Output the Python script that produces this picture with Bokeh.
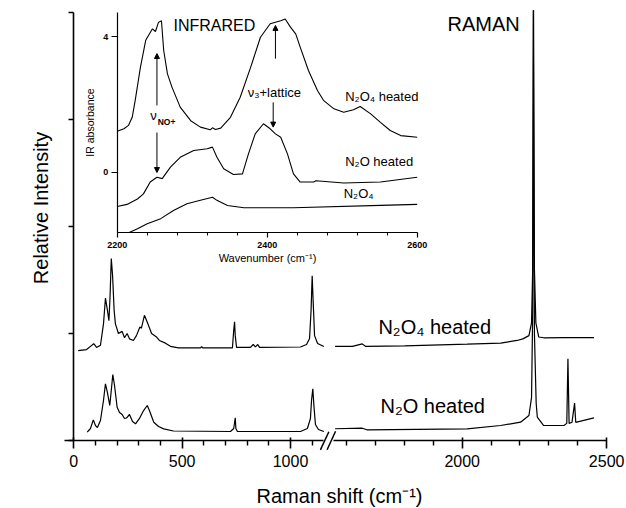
from bokeh.plotting import figure
from bokeh.models import Range1d, LinearAxis, FixedTicker, Arrow, NormalHead
from bokeh.core.properties import value
from bokeh.embed import file_html
from bokeh.resources import INLINE

# ------------------------------------------------------------------ data
# Raman, low-wavenumber segment (cm-1, relative intensity)
ram_n2o4h_lo_x = [20, 59, 77, 92, 105, 123, 137, 146, 155, 162, 167, 173, 179, 186, 192, 206,
                  223, 234, 246, 257, 275, 289, 305, 312, 326, 340, 359, 380, 395, 423, 446,
                  483, 585, 590, 595, 732, 738, 742, 745, 751, 815, 828, 838, 849, 857, 1046,
                  1074, 1088, 1095, 1100, 1104, 1111, 1125, 1154]
ram_n2o4h_lo_y = [0.84, 0.85, 0.88, 0.905, 0.87, 0.89, 1.09, 1.33, 1.22, 1.12, 1.33, 1.70,
                  1.54, 1.22, 1.09, 1.00, 1.02, 0.96, 1.00, 0.95, 0.935, 0.98, 1.06, 1.05,
                  1.17, 1.10, 1.00, 0.97, 0.935, 0.91, 0.88, 0.865, 0.865, 0.878, 0.865,
                  0.865, 1.03, 1.11, 0.98, 0.87, 0.87, 0.897, 0.875, 0.897, 0.87, 0.874,
                  0.897, 0.953, 1.22, 1.54, 1.33, 0.98, 0.907, 0.879]

ram_n2oh_lo_x = [62, 77, 90, 100, 109, 123, 137, 146, 155, 166, 172, 180, 188, 200, 211, 223,
                 234, 243, 257, 271, 285, 303, 322, 339, 349, 369, 391, 415, 460, 723, 738,
                 745, 748, 755, 1046, 1078, 1092, 1097, 1103, 1108, 1115, 1129, 1154]
ram_n2oh_lo_y = [0.078, 0.112, 0.193, 0.14, 0.121, 0.187, 0.374, 0.53, 0.449, 0.327, 0.449,
                 0.617, 0.514, 0.311, 0.262, 0.243, 0.206, 0.21, 0.243, 0.178, 0.156, 0.206,
                 0.28, 0.327, 0.28, 0.171, 0.131, 0.109, 0.089, 0.084, 0.112, 0.212, 0.112,
                 0.084, 0.084, 0.112, 0.206, 0.374, 0.483, 0.327, 0.15, 0.103, 0.084]

# Raman, high-wavenumber segment
ram_n2o4h_hi_x = [1560, 1620, 1654, 1665, 1800, 2017, 2133, 2190, 2210, 2231, 2240, 2244,
                  2247, 2250, 2255, 2265, 2282, 2350, 2456]
ram_n2o4h_hi_y = [0.879, 0.88, 0.903, 0.88, 0.885, 0.90, 0.91, 0.935, 0.95, 0.98, 1.1, 1.6,
                  4.02, 1.6, 1.1, 0.967, 0.96, 0.962, 0.962]

ram_n2oh_hi_x = [1560, 1654, 1670, 2017, 2133, 2202, 2231, 2240, 2244, 2246, 2250, 2256,
                 2260, 2282, 2352, 2362, 2366, 2370, 2380, 2389, 2393, 2456]
ram_n2oh_hi_y = [0.11, 0.115, 0.10, 0.109, 0.14, 0.171, 0.234, 0.4, 1.2, 4.02, 1.0, 0.35,
                 0.218, 0.14, 0.14, 0.16, 0.764, 0.16, 0.17, 0.349, 0.17, 0.212]

# Infrared inset (wavenumber cm-1, IR absorbance)
ir_n2o4h_x = [2200, 2209, 2215, 2220, 2224, 2231, 2238, 2247, 2251, 2255, 2259, 2262, 2267,
              2273, 2284, 2298, 2311, 2324, 2327, 2331, 2338, 2351, 2364, 2378, 2391, 2404,
              2418, 2424, 2431, 2438, 2444, 2455, 2467, 2475, 2489, 2502, 2515, 2524, 2538,
              2551, 2564, 2578, 2600]
ir_n2o4h_y = [1.21, 1.28, 1.38, 1.62, 2.12, 3.10, 3.89, 4.23, 4.15, 4.42, 4.47, 3.59, 2.90,
              2.51, 1.92, 1.52, 1.33, 1.25, 1.31, 1.26, 1.30, 1.62, 2.21, 3.10, 3.98, 4.38,
              4.47, 4.52, 4.28, 4.08, 3.69, 3.00, 2.41, 2.12, 1.87, 1.77, 1.84, 1.94, 1.72,
              1.47, 1.23, 1.08, 1.03]

ir_n2oh_x = [2200, 2213, 2227, 2235, 2244, 2253, 2260, 2271, 2284, 2302, 2320, 2327, 2333,
             2342, 2355, 2367, 2375, 2384, 2395, 2404, 2411, 2418, 2427, 2435, 2444, 2462,
             2465, 2502, 2551, 2600]
ir_n2oh_y = [-1.01, -0.95, -0.79, -0.64, -0.29, -0.15, -0.19, 0.15, 0.44, 0.64, 0.69, 0.74,
             0.44, 0.10, -0.07, -0.05, 0.54, 1.13, 1.43, 1.28, 1.13, 1.03, 0.54, -0.05, -0.29,
             -0.29, -0.25, -0.32, -0.29, -0.15]

ir_n2o4_x = [2216, 2227, 2240, 2258, 2275, 2293, 2311, 2327, 2333, 2347, 2369, 2435, 2551,
             2600]
ir_n2o4_y = [-1.78, -1.67, -1.52, -1.37, -1.13, -0.93, -0.83, -0.74, -0.83, -0.98, -1.05,
             -1.05, -0.98, -0.95]

raman_major_lo = [0, 500, 1000]
raman_minor_lo = [100, 200, 300, 400, 600, 700, 800, 900, 1100]
raman_major_hi = [2000, 2500]
raman_minor_hi = [1600, 1700, 1800, 1900, 2100, 2200, 2300, 2400]
ir_major = [2200, 2400, 2600]
ir_minor = [2240, 2280, 2320, 2360, 2440, 2480, 2520, 2560]
ir_yticks = [0, 4]

# ------------------------------------------------------------------ layout
W, H = 626, 508
FONT_NAME = "Liberation Sans"
FONT = value(FONT_NAME)


def hrange(px0, v0, ppu):
    return Range1d(v0 + (0 - px0) / ppu, v0 + (W - px0) / ppu)


def vrange(py0, v0, ppu):
    return Range1d(v0 + (py0 - H) / ppu, v0 + py0 / ppu)


p = figure(width=W, height=H, x_range=hrange(73.3, 0, 0.2167), y_range=vrange(440, 0, 107),
           x_axis_type=None, y_axis_type=None, toolbar_location=None,
           output_backend="svg", min_border=0, outline_line_color=None)
p.extra_x_ranges = {"right": hrange(461.7, 2000, 0.2889), "irx": hrange(116.7, 2200, 0.75)}
p.extra_y_ranges = {"iry": vrange(171.7, 0, 33.9)}


def style(ax, lw=1.6, fs="16px", bold=False):
    ax.axis_line_width = lw
    ax.major_tick_line_width = lw
    ax.minor_tick_line_width = lw * 0.9
    ax.major_label_text_font = FONT_NAME
    ax.major_label_text_font_size = fs
    ax.major_label_text_color = "black"
    ax.axis_label_text_font = FONT_NAME
    ax.axis_label_text_font_style = "normal"
    ax.axis_label_text_color = "black"
    if bold:
        ax.major_label_text_font_style = "bold"


# main x axes (broken)
ax_lo = LinearAxis(ticker=FixedTicker(ticks=raman_major_lo, minor_ticks=raman_minor_lo),
                   bounds=(-45, 1154), fixed_location=0)
ax_hi = LinearAxis(x_range_name="right",
                   ticker=FixedTicker(ticks=raman_major_hi, minor_ticks=raman_minor_hi),
                   bounds=(1556, 2500), fixed_location=0)
for ax in (ax_lo, ax_hi):
    style(ax)
    ax.major_tick_in = 3
    ax.major_tick_out = 8
    ax.minor_tick_in = 0
    ax.minor_tick_out = 5
    ax.major_label_standoff = 6
    p.add_layout(ax, "below")

ax_xlab = LinearAxis(ticker=FixedTicker(ticks=[]), bounds=(-45, 2497), fixed_location=0,
                     axis_label="Raman shift (cm⁻¹)", axis_line_color=None,
                     major_tick_out=0, minor_tick_out=0, axis_label_standoff=44)
style(ax_xlab)
ax_xlab.axis_label_text_font_size = "20px"
p.add_layout(ax_xlab, "below")

# axis-break marks "//" (main-axis units)
brk_x0 = [1138, 1169]
brk_x1 = [1177, 1208]
p.segment(x0=brk_x0, y0=[-0.087, -0.087], x1=brk_x1, y1=[0.082, 0.087],
          line_color="black", line_width=1.5)

# main y axis
ax_y = LinearAxis(ticker=FixedTicker(ticks=[0, 1, 2, 3, 4], minor_ticks=[]), bounds=(0, 4),
                  fixed_location=0)
style(ax_y)
ax_y.major_tick_in = 0
ax_y.major_tick_out = 5
ax_y.major_label_text_color = None
p.add_layout(ax_y, "left")

ax_ylab = LinearAxis(ticker=FixedTicker(ticks=[]), bounds=(0.346, 4.0), fixed_location=0,
                     axis_label="Relative Intensity", axis_line_color=None,
                     major_tick_out=0, minor_tick_out=0, axis_label_standoff=22)
style(ax_ylab)
ax_ylab.axis_label_text_font_size = "20px"
p.add_layout(ax_ylab, "left")

# inset axes
ax_irx = LinearAxis(x_range_name="irx", y_range_name="iry",
                    ticker=FixedTicker(ticks=ir_major, minor_ticks=ir_minor),
                    bounds=(2200, 2600), fixed_location=-1.788,
                    axis_label="Wavenumber (cm⁻¹)", axis_label_standoff=1)
style(ax_irx, lw=1.2, fs="9px", bold=True)
ax_irx.major_tick_in = 0
ax_irx.major_tick_out = 5
ax_irx.minor_tick_in = 0
ax_irx.minor_tick_out = 3
ax_irx.major_label_standoff = 4
ax_irx.axis_label_text_font_size = "11px"
p.add_layout(ax_irx, "below")

ax_iry = LinearAxis(x_range_name="irx", y_range_name="iry",
                    ticker=FixedTicker(ticks=ir_yticks, minor_ticks=[]),
                    bounds=(-1.788, 4.717), fixed_location=2200,
                    axis_label="IR absorbance", axis_label_standoff=4)
style(ax_iry, lw=1.2, fs="9px", bold=True)
ax_iry.major_tick_in = 0
ax_iry.major_tick_out = 6
ax_iry.major_label_standoff = 3
ax_iry.axis_label_text_font_size = "10.5px"
p.add_layout(ax_iry, "left")

# ------------------------------------------------------------------ traces
lw = 1.2
p.line(ram_n2o4h_lo_x, ram_n2o4h_lo_y, line_color="black", line_width=lw)
p.line(ram_n2oh_lo_x, ram_n2oh_lo_y, line_color="black", line_width=lw)
p.line(ram_n2o4h_hi_x, ram_n2o4h_hi_y, line_color="black", line_width=lw, x_range_name="right")
p.line(ram_n2oh_hi_x, ram_n2oh_hi_y, line_color="black", line_width=lw, x_range_name="right")

for xs, ys in ((ir_n2o4h_x, ir_n2o4h_y), (ir_n2oh_x, ir_n2oh_y), (ir_n2o4_x, ir_n2o4_y)):
    p.line(xs, ys, line_color="black", line_width=1.1, x_range_name="irx", y_range_name="iry")


# ------------------------------------------------------------------ texts
def txt(x, y, s, size, rx="default", ry="default", style="normal"):
    p.text(x=[x], y=[y], text=[s], x_range_name=rx, y_range_name=ry,
           text_font=FONT, text_font_size=size, text_font_style=style,
           text_baseline="middle", text_align="left", text_color="black")


txt(1949, 3.897, "RAMAN", "20px", rx="right")
txt(1710, 1.059, "N₂O₄ heated", "20px", rx="right")
txt(1717, 0.327, "N₂O heated", "20px", rx="right")

txt(2275, 4.33, "INFRARED", "16px", rx="irx", ry="iry")
txt(2374, 2.35, "ν₃+lattice", "13px", rx="irx", ry="iry")
txt(2244, 1.67, "ν", "13px", rx="irx", ry="iry")
txt(2254, 1.47, "NO+", "8.5px", rx="irx", ry="iry", style="bold")
txt(2504, 2.23, "N₂O₄ heated", "13px", rx="irx", ry="iry")
txt(2504, 0.32, "N₂O heated", "13px", rx="irx", ry="iry")
txt(2502, -0.63, "N₂O₄", "13px", rx="irx", ry="iry")

for xs, ys, xe, ye in ((2253, 1.97, 2253, 3.50), (2253, 1.17, 2253, -0.01),
                       (2408, 2.06, 2408, 1.33), (2411, 3.35, 2411, 4.33)):
    p.add_layout(Arrow(end=NormalHead(size=5, fill_color="black", line_color="black"),
                       x_start=xs, y_start=ys, x_end=xe, y_end=ye, line_width=1,
                       line_color="black", x_range_name="irx", y_range_name="iry"))

open("out.html", "w").write(file_html(p, INLINE))
